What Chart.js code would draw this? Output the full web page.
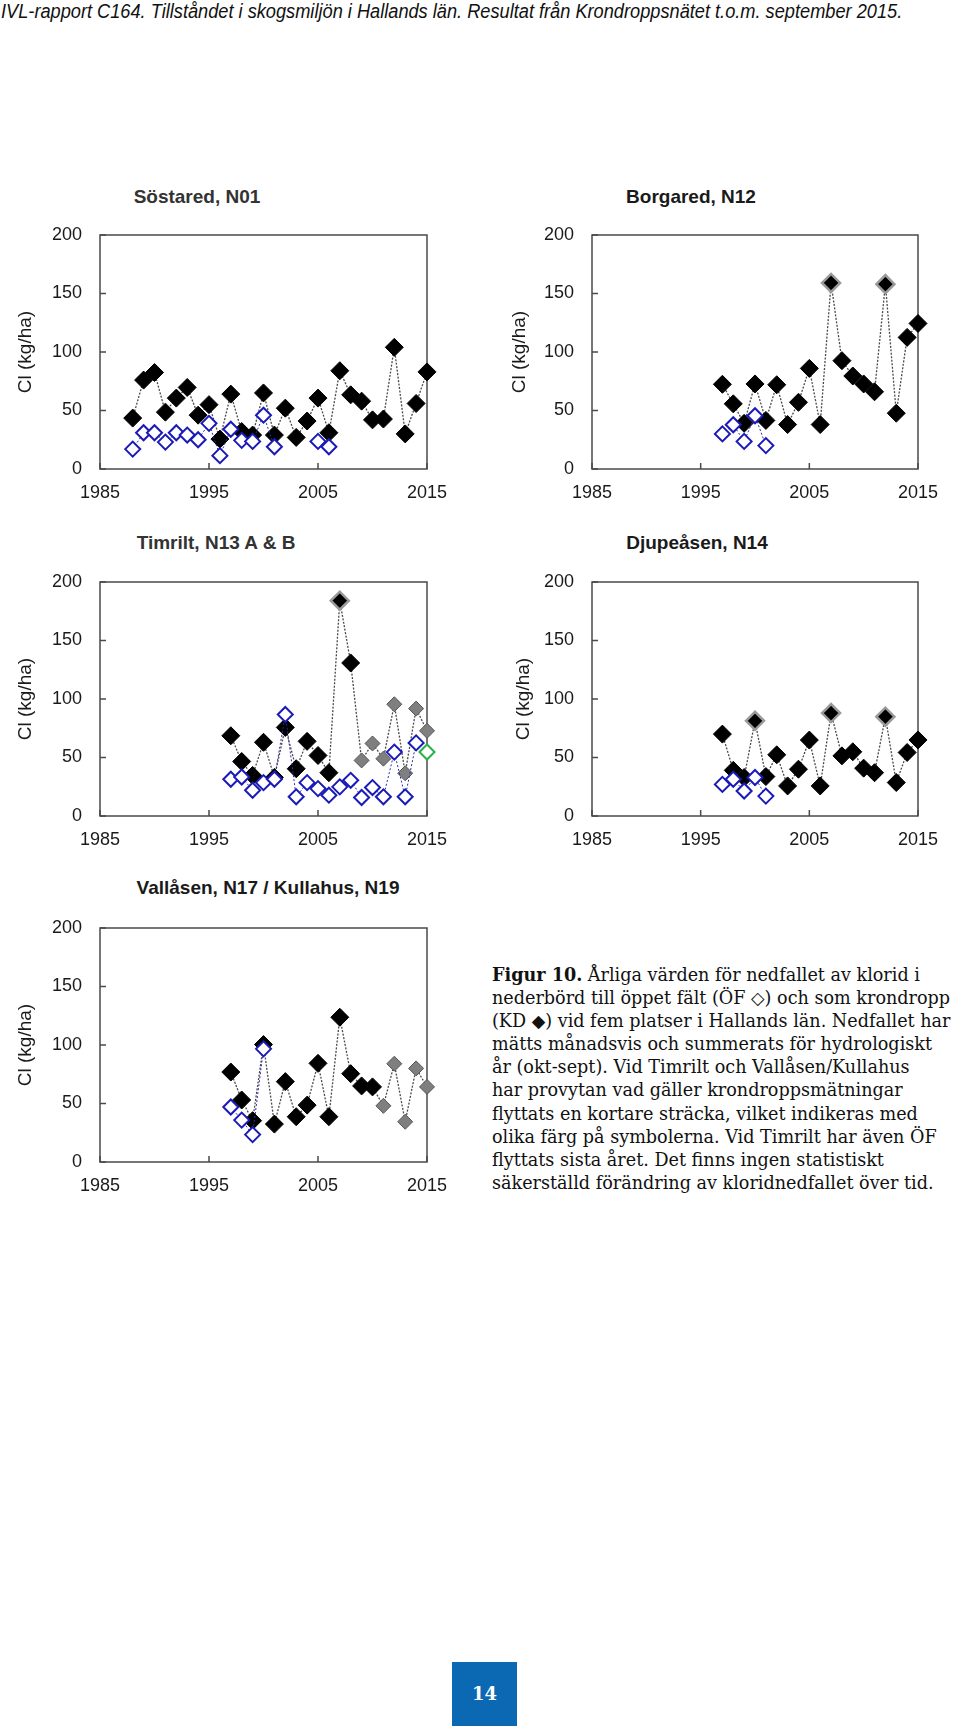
<!DOCTYPE html>
<html>
<head>
<meta charset="utf-8">
<script src="https://cdn.jsdelivr.net/npm/chart.js@4.4.1/dist/chart.umd.min.js"></script>
<style>
    body { margin: 0; width: 960px; height: 1734px; background: #fff; position: relative; overflow: hidden;
           font-family: "Liberation Sans", Arial, sans-serif; }
    .header { position: absolute; left: 1px; top: 0; font-style: italic; font-size: 20px; white-space: nowrap;
              transform: scaleX(0.91); transform-origin: 0 0; color: #111; }
    .panel { position: absolute; }
    .ptitle { position: absolute; width: 400px; text-align: center; font-weight: bold; font-size: 19px;
              line-height: 22px; color: #1a1a1a; white-space: nowrap; }
    .caption { position: absolute; left: 492px; top: 963px; font-family: "DejaVu Serif", serif; font-size: 17.6px;
               line-height: 23.1px; color: #111; }
    .caption div { white-space: nowrap; }
    .pagebox { position: absolute; left: 452px; top: 1662px; width: 65px; height: 64px; background: #0b68b3;
               color: #fff; font-family: "DejaVu Serif", serif; font-weight: bold; font-size: 18px;
               line-height: 64px; text-align: center; }
</style>
</head>
<body>
<div class="header">IVL-rapport C164. Tillståndet i skogsmiljön i Hallands län. Resultat från Krondroppsnätet t.o.m. september 2015.</div>

<div class="ptitle" style="left:-3px; top:186px; color:#333;">Söstared, N01</div>
<div class="ptitle" style="left:491px; top:186px;">Borgared, N12</div>
<div class="ptitle" style="left:16px; top:532px; color:#333;">Timrilt, N13 A &amp; B</div>
<div class="ptitle" style="left:497px; top:532px;">Djupeåsen, N14</div>
<div class="ptitle" style="left:68px; top:877px;">Vallåsen, N17 / Kullahus, N19</div>

<canvas id="c1" class="panel" width="460" height="330" style="left:0; top:180px;"></canvas>
<canvas id="c2" class="panel" width="470" height="330" style="left:490px; top:180px;"></canvas>
<canvas id="c3" class="panel" width="460" height="330" style="left:0; top:527px;"></canvas>
<canvas id="c4" class="panel" width="470" height="330" style="left:490px; top:527px;"></canvas>
<canvas id="c5" class="panel" width="460" height="330" style="left:0; top:873px;"></canvas>

<div class="caption">
    <div><b>Figur 10.</b> Årliga värden för nedfallet av klorid i</div>
    <div>nederbörd till öppet fält (ÖF ◇) och som krondropp</div>
    <div>(KD ◆) vid fem platser i Hallands län. Nedfallet har</div>
    <div>mätts månadsvis och summerats för hydrologiskt</div>
    <div>år (okt-sept). Vid Timrilt och Vallåsen/Kullahus</div>
    <div>har provytan vad gäller krondroppsmätningar</div>
    <div>flyttats en kortare sträcka, vilket indikeras med</div>
    <div>olika färg på symbolerna. Vid Timrilt har även ÖF</div>
    <div>flyttats sista året. Det finns ingen statistiskt</div>
    <div>säkerställd förändring av kloridnedfallet över tid.</div>
</div>

<div class="pagebox">14</div>

<script>
// axis ticks
const xTickValues = [1985, 1995, 2005, 2015];
const yTickValues = [0, 50, 100, 150, 200];

// Söstared, N01
const sostaredYears = [1988, 1989, 1990, 1991, 1992, 1993, 1994, 1995, 1996, 1997, 1998, 1999, 2000, 2001,
                       2002, 2003, 2004, 2005, 2006, 2007, 2008, 2009, 2010, 2011, 2012, 2013, 2014, 2015];
const sostaredKD = [43.5, 76, 82.5, 48.6, 60.6, 69.7, 46, 55, 25.6, 64, 32, 29, 65, 29,
                    52, 27, 41, 60.6, 31, 84, 63.4, 58, 42, 42.7, 104, 30, 56, 83];
const sostaredOF = [17, 31, 31, 23, 31, 29, 25, 39, 11.4, 34, 24.5, 23.6, 46, 19,
                    null, null, null, 23.6, 19, null, null, null, null, null, null, null, null, null];

// the four sites that start in 1997
const siteYears = [1997, 1998, 1999, 2000, 2001, 2002, 2003, 2004, 2005, 2006,
                   2007, 2008, 2009, 2010, 2011, 2012, 2013, 2014, 2015];

// Borgared, N12
const borgaredKD = [72.4, 55.7, 39, 72.7, 41.5, 72, 38, 57, 86, 38, 159, 92.6, 79.5, 72.7, 66, 158, 47.7, 112.5, 124.4];
const borgaredOF = [30, 37.8, 23.6, 45.5, 20, null, null, null, null, null, null, null, null, null, null, null, null, null, null];

// Timrilt, N13 A & B
const timriltKD = [68.6, 46.6, 34.7, 63, 33, 75.7, 40.4, 63.8, 51.7, 37, 184, 130.8, 47.5, 62, 49, 95.5, 36.5, 91.8, 72.8];
const timriltOF = [31.4, 33.3, 22, 28.5, 31.4, 86.8, 16.4, 28.5, 23.4, 17.8, 24.9, 30.5, 15.8, 24.3, 16.4, 54.6, 16.4, 62.5, 54.7];

// Djupeåsen, N14
const djupeasenKD = [70, 39, 32.9, 81.4, 33.7, 52.3, 25.7, 40, 64.9, 25.7, 88, 51.4, 54.9, 40.9, 37, 84.9, 28.6, 54.3, 65];
const djupeasenOF = [27, 31.4, 21.4, 32.9, 17, null, null, null, null, null, null, null, null, null, null, null, null, null, null];

// Vallåsen, N17 / Kullahus, N19
const vallasenKD = [76.9, 53, 35.3, 100.4, 32.4, 68.7, 38.7, 48.6, 84.3, 38.7, 123.7, 75.5, 65, 64.2, 48, 84, 34.4, 80, 64.2];
const vallasenOF = [47, 35.8, 23.4, 96.7, null, null, null, null, null, null, null, null, null, null, null, null, null, null, null];

// year from which the plot was moved (other marker colour)
const timriltKDMovedFrom = 2009;
const timriltOFMovedFrom = 2015;
const vallasenKDMovedFrom = 2011;

const panels = [
    { id: 'c1', years: sostaredYears, kd: sostaredKD, of: sostaredOF, yWidth: 100, right: 33, titlePad: 14, halo: [] },
    { id: 'c2', years: siteYears, kd: borgaredKD, of: borgaredOF, yWidth: 102, right: 42, titlePad: 18, halo: [2007, 2012] },
    { id: 'c3', years: siteYears, kd: timriltKD, of: timriltOF, yWidth: 100, right: 33, titlePad: 14, halo: [2007],
      kdMoved: timriltKDMovedFrom, ofMoved: timriltOFMovedFrom },
    { id: 'c4', years: siteYears, kd: djupeasenKD, of: djupeasenOF, yWidth: 102, right: 42, titlePad: 22, halo: [2000, 2007, 2012] },
    { id: 'c5', years: siteYears, kd: vallasenKD, of: vallasenOF, yWidth: 100, right: 33, titlePad: 14, halo: [],
      kdMoved: vallasenKDMovedFrom }
];

// box round the plot and inward tick marks
const framePlugin = {
    id: 'frame',
    beforeDatasetsDraw(chart) {
        const { ctx, chartArea: a, scales: { x, y } } = chart;
        ctx.save();
        ctx.strokeStyle = '#4a4a4a';
        ctx.lineWidth = 1.5;
        ctx.strokeRect(a.left, a.top, a.right - a.left, a.bottom - a.top);
        ctx.beginPath();
        y.ticks.forEach(t => {
            const py = y.getPixelForValue(t.value);
            ctx.moveTo(a.left, py);
            ctx.lineTo(a.left + 6, py);
        });
        x.ticks.forEach(t => {
            const px = x.getPixelForValue(t.value);
            ctx.moveTo(px, a.bottom);
            ctx.lineTo(px, a.bottom - 6);
        });
        ctx.stroke();
        ctx.restore();
    }
};

const isPoint = c => c.type === 'data' && c.raw;

function makePanel(p) {
    const kdPoints = p.years.map((yr, i) => ({ x: yr, y: p.kd[i] }));
    const ofPoints = p.years.map((yr, i) => ({ x: yr, y: p.of[i] }));
    const kdMoved = c => isPoint(c) && p.kdMoved && c.raw.x >= p.kdMoved;
    const ofMoved = c => isPoint(c) && p.ofMoved && c.raw.x >= p.ofMoved;
    const halo = c => isPoint(c) && p.halo.includes(c.raw.x);

    new Chart(document.getElementById(p.id), {
        type: 'line',
        data: {
            datasets: [
                {
                    label: 'ÖF',
                    data: ofPoints,
                    borderColor: '#2b2bb0',
                    borderWidth: 1,
                    borderDash: [2, 2],
                    tension: 0,
                    pointStyle: 'rectRot',
                    pointRadius: 7.5,
                    pointBorderWidth: 2,
                    pointBackgroundColor: '#fff',
                    pointBorderColor: c => ofMoved(c) ? '#27b04a' : '#1a1ab8',
                    clip: false
                },
                {
                    label: 'KD',
                    data: kdPoints,
                    borderColor: '#4a4a4a',
                    borderWidth: 1.3,
                    borderDash: [2, 1.5],
                    tension: 0,
                    pointStyle: 'rectRot',
                    pointRadius: c => kdMoved(c) ? 7.5 : 9,
                    pointBorderWidth: c => halo(c) ? 2.5 : 1,
                    pointBackgroundColor: c => kdMoved(c) ? '#7f7f7f' : '#000',
                    pointBorderColor: c => halo(c) ? '#9a9a9a' : (kdMoved(c) ? '#555' : '#000'),
                    clip: false
                }
            ]
        },
        options: {
            responsive: false,
            animation: false,
            devicePixelRatio: 1,
            layout: { padding: { left: 0, right: p.right, top: 55, bottom: 0 } },
            plugins: { legend: { display: false }, tooltip: { enabled: false } },
            scales: {
                x: {
                    type: 'linear',
                    min: 1985,
                    max: 2015,
                    grid: { display: false },
                    border: { display: false },
                    afterBuildTicks: s => { s.ticks = xTickValues.map(v => ({ value: v })); },
                    afterFit: s => { s.height = 41; },
                    ticks: {
                        color: '#1a1a1a',
                        padding: 5,
                        maxRotation: 0,
                        autoSkip: false,
                        font: { family: 'Liberation Sans', size: 18 },
                        callback: v => String(v)
                    }
                },
                y: {
                    min: 0,
                    max: 200,
                    grid: { display: false },
                    border: { display: false },
                    afterBuildTicks: s => { s.ticks = yTickValues.map(v => ({ value: v })); },
                    afterFit: s => { s.width = p.yWidth; },
                    ticks: {
                        color: '#1a1a1a',
                        padding: 10,
                        font: { family: 'Liberation Sans', size: 18 }
                    },
                    title: {
                        display: true,
                        text: 'Cl (kg/ha)',
                        color: '#1a1a1a',
                        font: { family: 'Liberation Sans', size: 19 },
                        padding: { top: p.titlePad, bottom: 0 }
                    }
                }
            }
        },
        plugins: [framePlugin]
    });
}

panels.forEach(makePanel);
</script>
</body>
</html>
